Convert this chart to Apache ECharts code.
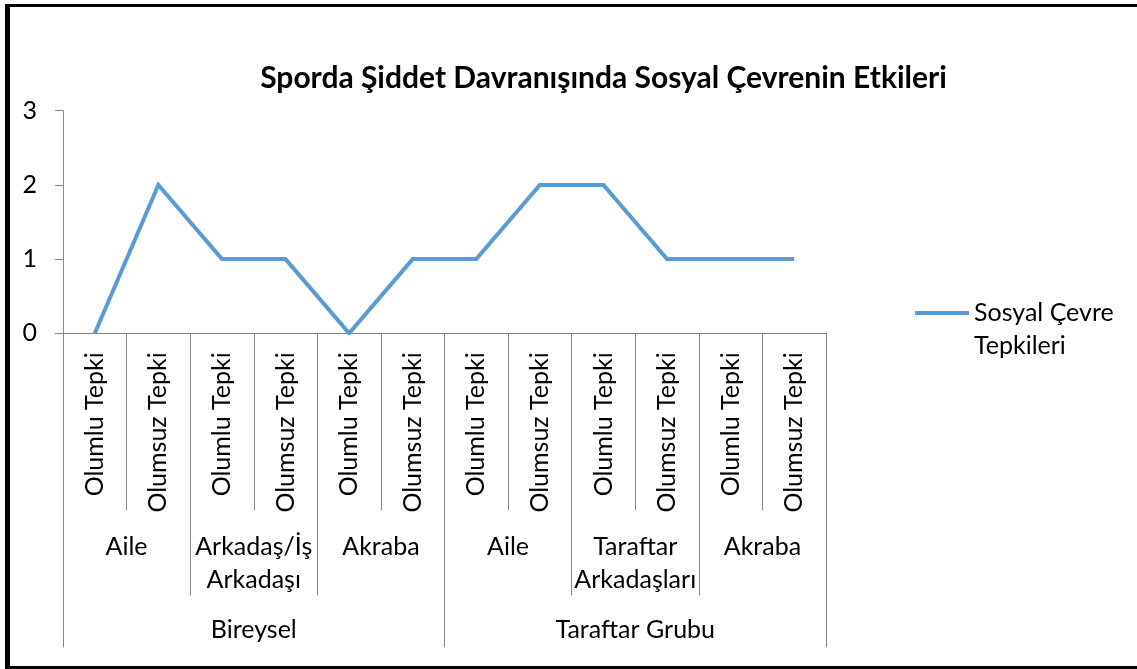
<!DOCTYPE html>
<html>
<head>
<meta charset="utf-8">
<script src="https://cdn.jsdelivr.net/npm/echarts@6/dist/echarts.min.js"></script>
<style>
html,body{margin:0;padding:0;background:#fff;}
#chart{width:1137px;height:669px;}
</style>
</head>
<body>
<div id="chart"></div>
<script>
const categories = ['Olumlu Tepki','Olumsuz Tepki','Olumlu Tepki','Olumsuz Tepki','Olumlu Tepki','Olumsuz Tepki','Olumlu Tepki','Olumsuz Tepki','Olumlu Tepki','Olumsuz Tepki','Olumlu Tepki','Olumsuz Tepki'];
const subGroups = ['Aile','Arkadaş/İş\nArkadaşı','Akraba','Aile','Taraftar\nArkadaşları','Akraba'];
const mainGroups = ['Bireysel','Taraftar Grubu'];
const values = [0,2,1,1,0,1,1,2,2,1,1,1];
const yTicks = [0,1,2,3];
const seriesName = 'Sosyal Çevre\nTepkileri';
const titleText = 'Sporda Şiddet Davranışında Sosyal Çevrenin Etkileri';

const FONT = 'Lato';
const axisGrey = '#868686';
const lineBlue = '#5B9BD5';
const chart = echarts.init(document.getElementById('chart'));
const gridTop = 110.7, gridBottom = 335.7;
chart.setOption({
  animation:false,
  backgroundColor:'#fff',
  title:{
    text:titleText, left:603.5, textAlign:'center', top:63, padding:0,
    textStyle:{fontFamily:FONT, fontWeight:'bold', fontSize:30, color:'#000'}
  },
  legend:{
    show:true, left:913, top:263.5, orient:'vertical',
    itemWidth:54, itemHeight:14, padding:0, icon:'inherit',
    data:[seriesName],
    formatter: function(name){ return '\n' + name; },
    lineStyle:{width:4, color:lineBlue, cap:'butt'},
    itemStyle:{opacity:0, color:'transparent', borderWidth:0},
    textStyle:{fontFamily:FONT, fontSize:25, color:'#000', lineHeight:33}
  },
  grid:{left:63, right:311, top:gridTop, bottom:gridBottom, containLabel:false},
  xAxis:[
    {
      type:'category', data:categories, position:'bottom', boundaryGap:true,
      axisLine:{show:true, lineStyle:{color:axisGrey, width:1}},
      axisTick:{show:true, interval:0, length:177, lineStyle:{color:axisGrey, width:1}},
      axisLabel:{interval:0, rotate:90, margin:19, fontFamily:FONT, fontSize:25, color:'#000'},
      splitLine:{show:false}
    },
    {
      type:'category', data:subGroups, position:'bottom', boundaryGap:true,
      axisLine:{show:false},
      axisTick:{show:true, interval:0, length:262, lineStyle:{color:axisGrey, width:1}},
      axisLabel:{interval:0, margin:197, fontFamily:FONT, fontSize:25, color:'#000', lineHeight:33},
      splitLine:{show:false}
    },
    {
      type:'category', data:mainGroups, position:'bottom', boundaryGap:true,
      axisLine:{show:false},
      axisTick:{show:true, interval:0, length:314, lineStyle:{color:axisGrey, width:1}},
      axisLabel:{interval:0, margin:280, fontFamily:FONT, fontSize:25, color:'#000', lineHeight:33},
      splitLine:{show:false}
    }
  ],
  yAxis:{
    type:'value', min:yTicks[0], max:yTicks[yTicks.length-1], interval:1,
    axisLine:{show:true, lineStyle:{color:axisGrey, width:1}},
    axisTick:{show:true, length:8, lineStyle:{color:axisGrey}},
    axisLabel:{margin:26, fontFamily:FONT, fontSize:25, color:'#000'},
    splitLine:{show:false}
  },
  series:[{
    name:seriesName, type:'line', data:values, xAxisIndex:0,
    symbol:'none', showSymbol:false,
    lineStyle:{color:lineBlue, width:4, join:'miter', cap:'butt'},
    itemStyle:{color:lineBlue}
  }],
  graphic:[
    {type:'rect', shape:{x:5, y:4, width:1132, height:3}, style:{fill:'#000'}, silent:true},
    {type:'rect', shape:{x:5, y:4, width:5, height:665}, style:{fill:'#000'}, silent:true},
    {type:'rect', shape:{x:5, y:666, width:1132, height:3}, style:{fill:'#000'}, silent:true}
  ]
});
</script>
</body>
</html>
